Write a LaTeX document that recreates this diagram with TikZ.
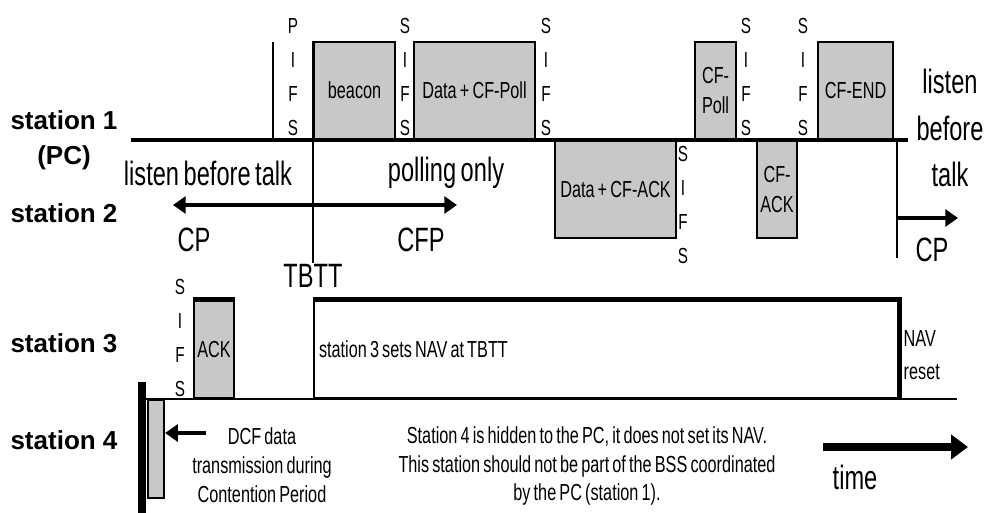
\documentclass[tikz,border=0pt]{standalone}
\usepackage{fontspec}
\setmainfont{Liberation Sans}
\newfontfamily\narrowfont{Liberation Sans}[FakeStretch=0.7,WordSpace=0.7]
\usetikzlibrary{arrows.meta,positioning}
\definecolor{framegray}{HTML}{C8C8C8}
\tikzset{
  framebox/.style={draw,line width=1.5pt,fill=framegray,inner sep=0pt,minimum height=2.425cm,align=center,font=\narrowfont\fontsize{16.5}{21}\selectfont},
  navbox/.style={draw,line width=1.5pt,fill=white,inner xsep=0.125cm,inner ysep=0pt,text width=14.35cm,minimum height=2.425cm,align=flush left,font=\narrowfont\fontsize{16.5}{21}\selectfont},
  ifs/.style={inner sep=0pt,align=center,font=\narrowfont\fontsize{15.5}{24}\selectfont},
  stationlabel/.style={inner sep=1pt,align=center,font=\bfseries\fontsize{18.5}{25}\selectfont},
  biglabel/.style={inner sep=1pt,align=center,font=\narrowfont\fontsize{24}{33}\selectfont},
  smalltext/.style={inner sep=1pt,font=\narrowfont\fontsize{16.5}{20.5}\selectfont},
  timeline/.style={line width=3pt},
  vbar/.style={line width=2pt},
  heavy/.style={line width=3.5pt},
  period/.style={line width=3.5pt,-{Triangle[length=9pt,width=12pt]}},
  timearrow/.style={line width=5pt,-{Triangle[length=12pt,width=17pt]}}
}
\begin{document}
\begin{tikzpicture}[x=0.025cm,y=-0.025cm]
\useasboundingbox (0,0) rectangle (989,513);
% stations
\node[stationlabel] (st1) at (64,140) {station 1\\(PC)};
\node[stationlabel] (st2) at (64,213) {station 2};
\node[stationlabel] (st3) at (64,343) {station 3};
\node[stationlabel] (st4) at (64,440) {station 4};
% PC frames
\node[framebox,minimum width=2.025cm,anchor=south west] (beacon) at (313,140) {beacon};
\node[framebox,minimum width=3.025cm,anchor=south west] (datapoll) at (413,140) {Data + CF-Poll};
\node[framebox,minimum width=1.025cm,anchor=south west] (cfpoll) at (694,140) {CF-\\Poll};
\node[framebox,minimum width=1.875cm,anchor=south west] (cfend) at (817,140) {CF-END};
\node[framebox,minimum width=3.025cm,anchor=north west] (dataack) at (554,140) {Data + CF-ACK};
\node[framebox,minimum width=1cm,anchor=north west] (cfack) at (756,140) {CF-\\ACK};
\coordinate (l1a) at (131,140);
\coordinate (l1b) at (908,140);
\draw[timeline] (l1a) -- (l1b);
% interframe spaces
\node[ifs] (pifs) at (293,77) {P\\I\\F\\S};
\node[ifs] (sifs1) at (405,77) {S\\I\\F\\S};
\node[ifs] (sifs2) at (546,77) {S\\I\\F\\S};
\node[ifs] (sifs3) at (683,205) {S\\I\\F\\S};
\node[ifs] (sifs4) at (746,77) {S\\I\\F\\S};
\node[ifs] (sifs5) at (803,77) {S\\I\\F\\S};
\coordinate (pifstop) at (273,42);
\draw[vbar] (pifstop) -- (pifstop |- l1a);
% TBTT and periods
\node[biglabel] (tbtt) at (313,276) {TBTT};
\draw[vbar] (beacon.north west) -- (tbtt.north);
\coordinate (split) at (313,205);
\coordinate (cpend) at (173,205);
\coordinate (cfpend) at (457,205);
\draw[period] (split) -- (cpend);
\draw[period] (split) -- (cfpend);
\node[biglabel] (lbt1) at (208,173) {listen before talk};
\node[biglabel] (polling) at (446,173) {polling only};
\node[biglabel] (cp1) at (194,240) {CP};
\node[biglabel] (cfp) at (421,240) {CFP};
\coordinate (endcfp) at (897,140);
\coordinate (endbar) at (897,258);
\draw[vbar] (endcfp) -- (endbar);
\coordinate (cp2end) at (958,218);
\draw[period] (endcfp |- cp2end) -- (cp2end);
\node[biglabel] (lbt2) at (950,128) {listen\\before\\talk};
\node[biglabel] (cp2) at (932,250) {CP};
% station 3
\node[framebox,minimum width=1cm,anchor=south west] (ack) at (193,399) {ACK};
\node[navbox,anchor=south west] (nav) at (313,399) {station 3 sets NAV at TBTT};
\draw[heavy] (ack.north west) -- (ack.north east);
\draw[heavy] (nav.north west) -- (nav.north east) -- (nav.south east);
\coordinate (l3a) at (145,399);
\coordinate (l3b) at (957,399);
\draw[vbar] (l3a) -- (l3b);
\node[ifs] (sifs6) at (180,338) {S\\I\\F\\S};
\node[smalltext,align=left,anchor=west] (navreset) at (902,355) {NAV\\[3pt]reset};
% station 4
\node[framebox,minimum width=0.4cm,minimum height=2.45cm,anchor=north west] (dcf) at (147,399) {};
\coordinate (hidtop) at (142,382);
\coordinate (hidbot) at (142,513);
\draw[line width=5pt] (hidtop) -- (hidbot);
\node[smalltext,align=center] (dcftext) at (262,465) {DCF data\\transmission during\\Contention Period};
\coordinate (dcfstart) at (206,433);
\draw[period] (dcfstart) -- (dcf.east |- dcfstart);
\node[smalltext,align=center] (hidden) at (587,466) {Station 4 is hidden to the PC, it does not set its NAV.\\This station should not be part of the BSS coordinated\\by the PC (station 1).};
\coordinate (t0) at (823,447);
\coordinate (t1) at (968,447);
\draw[timearrow] (t0) -- (t1);
\node[biglabel] (time) at (855,477) {time};
\end{tikzpicture}
\end{document}
